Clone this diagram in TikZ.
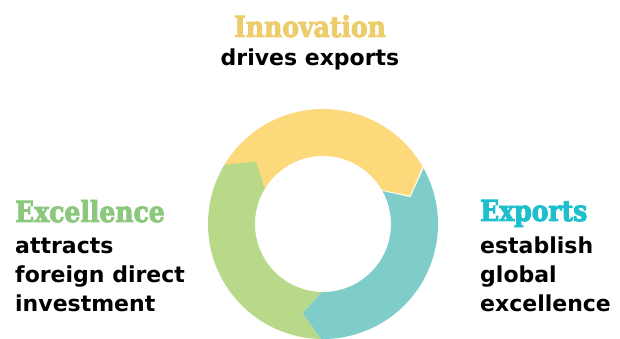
\documentclass[tikz,border=0pt]{standalone}
\usepackage{fontspec}
\setmainfont{DejaVu Sans}
\newfontfamily\headfont[FakeBold=3, FakeStretch=0.96]{DejaVu Serif Condensed}
\usetikzlibrary{positioning}

\definecolor{ringyellow}{HTML}{FCD97A}
\definecolor{ringteal}{HTML}{7FCDC9}
\definecolor{ringgreen}{HTML}{B9D98A}
\definecolor{headyellow}{HTML}{EDCC6B}
\definecolor{headteal}{HTML}{1DBFCC}
\definecolor{headgreen}{HTML}{8CC77E}
\newcommand\firstline{\rule{0pt}{17pt}}

\begin{document}
\begin{tikzpicture}[x=1pt, y=1pt]
\tikzstyle{head}=[inner sep=0pt, font=\headfont\bfseries\fontsize{29}{29}\selectfont]
\tikzstyle{body}=[inner sep=0pt, align=left, text=black, font=\bfseries\fontsize{22}{29.3}\selectfont]
\useasboundingbox (0,0) rectangle (620,339);
\def\outr{115pt}\def\innr{68pt}\def\midr{91.5pt}
% ring, three arrows running clockwise
\begin{scope}[shift={(323,115)}]
\foreach \a/\c in {150/ringyellow, 29/ringteal, -91/ringgreen}{
  \pgfmathsetmacro\b{\a-120}
  \pgfmathsetmacro\tipa{\a-132}
  \pgfmathsetmacro\tipb{\a-12}
  \fill[\c] (\a:\outr) arc[start angle=\a, end angle=\b, radius=\outr]
    -- (\tipa:\midr) -- (\b:\innr)
    arc[start angle=\b, end angle=\a, radius=\innr]
    -- (\tipb:\midr) -- cycle;
}
\end{scope}
% labels
\node[head, text=headyellow, anchor=base] (I) at (310,302) {Innovation};
\node[body, below=29pt of I.base, anchor=base] (Ib) {drives exports};
\node[head, text=headgreen, anchor=base west] (E) at (15,117) {Excellence};
\node[body, below=14pt of E.base west, anchor=north west] (Eb) {\firstline attracts\\foreign direct\\investment};
\node[head, text=headteal, anchor=base west] (X) at (480,118) {Exports};
\node[body, below=15pt of X.base west, anchor=north west] (Xb) {\firstline establish\\global\\excellence};
\end{tikzpicture}
\end{document}
